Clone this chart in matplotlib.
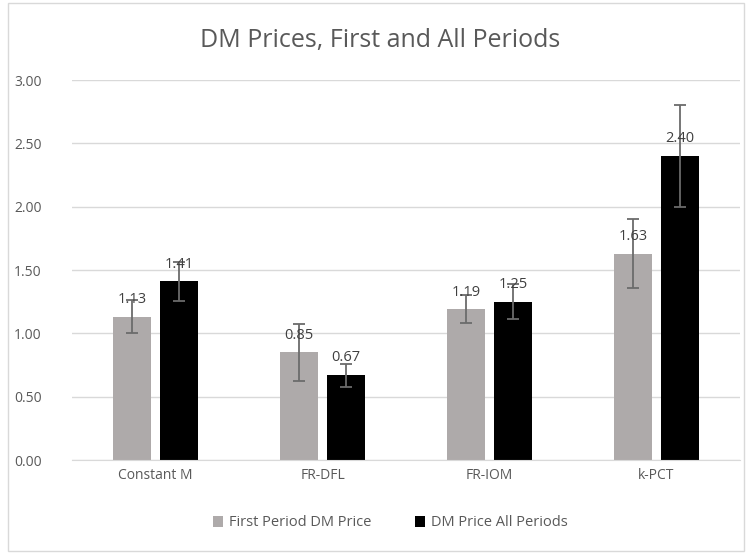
import numpy as np
import matplotlib
matplotlib.use('Agg')
import matplotlib.pyplot as plt
from matplotlib.patches import Rectangle

plt.rcParams['font.family'] = ['Open Sans', 'DejaVu Sans']

# 資料
categories = ['Constant M', 'FR-DFL', 'FR-IOM', 'k-PCT']
first_period = [1.13, 0.85, 1.19, 1.63]
first_err = [0.13, 0.225, 0.11, 0.27]
all_periods = [1.41, 0.67, 1.25, 2.40]
all_err = [0.155, 0.09, 0.14, 0.40]
series_names = ['First Period DM Price', 'DM Price All Periods']
yticks = [0.0, 0.5, 1.0, 1.5, 2.0, 2.5, 3.0]

text_color = '#595959'
fig = plt.figure(figsize=(7.46, 5.54), dpi=100)
ax = fig.add_axes([72 / 746, 1 - 460 / 554, 668 / 746, 380 / 554])

x = np.arange(len(categories))
w = 0.225
off = 0.14
err_kw = dict(ecolor='#6b6b6b', elinewidth=1.3, capsize=4, capthick=1.3)
b1 = ax.bar(x - off, first_period, w, color='#AEAAAA', yerr=first_err,
            error_kw=err_kw, label=series_names[0], zorder=2)
b2 = ax.bar(x + off, all_periods, w, color='black', yerr=all_err,
            error_kw=err_kw, label=series_names[1], zorder=2)

for bars, vals in [(b1, first_period), (b2, all_periods)]:
    for rect, v in zip(bars, vals):
        ax.annotate(f'{v:.2f}', (rect.get_x() + rect.get_width() / 2, v),
                    xytext=(0, 7), textcoords='offset points',
                    ha='center', va='bottom', fontsize=10.5, color='#404040',
                    zorder=3)

ax.set_xlim(-0.5, 3.5)
ax.set_ylim(0, 3.0)
ax.set_yticks(yticks)
ax.set_yticklabels([f'{t:.2f}' for t in yticks])
ax.set_xticks(x)
ax.set_xticklabels(categories)
ax.yaxis.grid(True, color='#D9D9D9', linewidth=1, zorder=0)
ax.set_axisbelow(True)
for s in ['top', 'right', 'left']:
    ax.spines[s].set_visible(False)
ax.spines['bottom'].set_color('#D9D9D9')
ax.tick_params(axis='both', length=0, colors=text_color, labelsize=10)
ax.tick_params(axis='y', pad=22)
ax.tick_params(axis='x', pad=6)

fig.text(0.51, 1 - 40 / 554, 'DM Prices, First and All Periods',
         ha='center', va='center', fontsize=18, color=text_color)

leg = fig.legend(handles=[b1, b2], labels=series_names, loc='center',
                 bbox_to_anchor=(0.523, 1 - 523 / 554), ncol=2, frameon=False,
                 fontsize=10.5, handlelength=0.7, handleheight=0.7,
                 columnspacing=3.0, handletextpad=0.4)
for t in leg.get_texts():
    t.set_color(text_color)

# 外框
fig.patches.append(Rectangle((8 / 746, 0.005), 1 - 10 / 746, 0.99,
                             transform=fig.transFigure, fill=False,
                             edgecolor='#D9D9D9', linewidth=1))

fig.savefig('out.png', dpi=100)
